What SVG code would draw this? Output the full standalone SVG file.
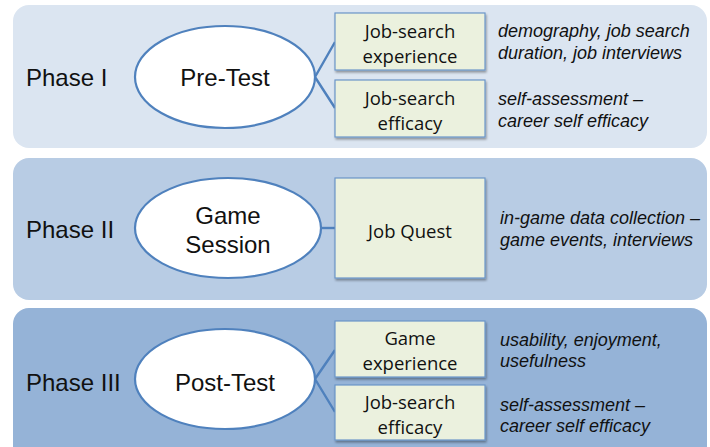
<svg xmlns="http://www.w3.org/2000/svg" width="710" height="447" viewBox="0 0 710 447">
<defs>
<filter id="sh" x="-10%" y="-10%" width="125%" height="130%">
<feDropShadow dx="1" dy="2" stdDeviation="1.2" flood-color="#000" flood-opacity="0.35"/>
</filter>
<style>
.phase{font-family:"Liberation Sans",Arial,sans-serif;font-size:24px;fill:#111}
.ell{fill:#fff;stroke:#4f81bd;stroke-width:2.2}
.etext{font-family:"Liberation Sans",Arial,sans-serif;font-size:24px;fill:#111;text-anchor:middle}
.box{fill:#ebf1de;stroke:#6b96c9;stroke-width:1.2;filter:url(#sh)}
.btext{font-family:"Open Sans","Noto Sans",sans-serif;font-size:18.5px;fill:#111;text-anchor:middle}
.note{font-family:"Liberation Sans",Arial,sans-serif;font-size:18px;font-style:italic;fill:#111}
.conn{stroke:#4f81bd;stroke-width:2.4;fill:none}
</style>
</defs>
<rect width="710" height="447" fill="#fff"/>
<g id="panel1">
<rect x="13" y="5" width="694" height="143" rx="16" fill="#dbe5f1"/>
<text class="phase" x="26" y="86">Phase I</text>
</g>
<g id="panel2">
<rect x="13" y="158" width="694" height="142" rx="16" fill="#b8cce4"/>
<text class="phase" x="26" y="238">Phase II</text>
</g>
<g id="panel3">
<rect x="13" y="308" width="694" height="160" rx="16" fill="#95b3d7"/>
<text class="phase" x="26" y="391">Phase III</text>
</g>
<g id="connectors">
<path class="conn" d="M315 77 L335 42 M315 77 L335 108"/>
<path class="conn" d="M322 228 L335 228"/>
<path class="conn" d="M315 379 L335 350 M315 379 L335 412"/>
</g>
<g id="pretest">
<ellipse class="ell" cx="225" cy="77" rx="90" ry="51"/>
<text class="etext" x="225" y="86">Pre-Test</text>
</g>
<g id="gamesession">
<ellipse class="ell" cx="228" cy="228" rx="93" ry="50"/>
<text class="etext" x="228" y="224">Game</text>
<text class="etext" x="228" y="253">Session</text>
</g>
<g id="posttest">
<ellipse class="ell" cx="225" cy="379" rx="90" ry="50"/>
<text class="etext" x="225" y="391">Post-Test</text>
</g>
<g id="box-jse">
<rect class="box" x="335" y="13" width="150" height="57"/>
<text class="btext" x="410" y="38">Job-search</text>
<text class="btext" x="410" y="63">experience</text>
</g>
<g id="box-jsef1">
<rect class="box" x="335" y="80" width="150" height="57"/>
<text class="btext" x="410" y="105">Job-search</text>
<text class="btext" x="410" y="130">efficacy</text>
</g>
<g id="box-jq">
<rect class="box" x="335" y="178" width="150" height="100"/>
<text class="btext" x="410" y="238">Job Quest</text>
</g>
<g id="box-ge">
<rect class="box" x="335" y="321" width="150" height="56"/>
<text class="btext" x="410" y="345">Game</text>
<text class="btext" x="410" y="370">experience</text>
</g>
<g id="box-jsef3">
<rect class="box" x="335" y="385" width="150" height="55"/>
<text class="btext" x="410" y="409">Job-search</text>
<text class="btext" x="410" y="434">efficacy</text>
</g>
<g id="notes">
<text class="note" x="498" y="37">demography, job search</text>
<text class="note" x="498" y="59">duration, job interviews</text>
<text class="note" x="498" y="105">self-assessment –</text>
<text class="note" x="498" y="127">career self efficacy</text>
<text class="note" x="500" y="224">in-game data collection –</text>
<text class="note" x="500" y="246">game events, interviews</text>
<text class="note" x="500" y="346">usability, enjoyment,</text>
<text class="note" x="500" y="367">usefulness</text>
<text class="note" x="500" y="411">self-assessment –</text>
<text class="note" x="500" y="432">career self efficacy</text>
</g>
</svg>
